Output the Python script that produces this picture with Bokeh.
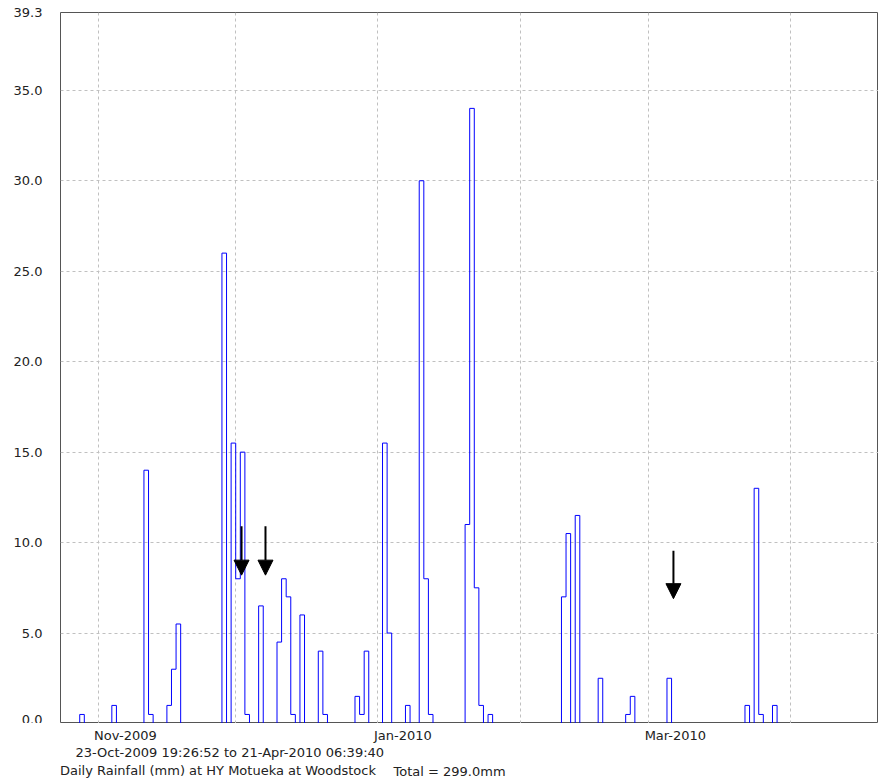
import pandas as pd
from bokeh.plotting import figure
from bokeh.layouts import column
from bokeh.models import (Range1d, FixedTicker, PrintfTickFormatter, Arrow,
                          NormalHead, Legend, LegendItem, Label)
from bokeh.embed import file_html
from bokeh.resources import INLINE

# ---- data ----
rain_dates = ["2009-10-28", "2009-11-04", "2009-11-11", "2009-11-12", "2009-11-16",
              "2009-11-17", "2009-11-18", "2009-11-28", "2009-11-30", "2009-12-01",
              "2009-12-02", "2009-12-03", "2009-12-06", "2009-12-10", "2009-12-11",
              "2009-12-12", "2009-12-13", "2009-12-15", "2009-12-19", "2009-12-20",
              "2009-12-27", "2009-12-28", "2009-12-29", "2010-01-02", "2010-01-03",
              "2010-01-07", "2010-01-10", "2010-01-11", "2010-01-12", "2010-01-20",
              "2010-01-21", "2010-01-22", "2010-01-23", "2010-01-25", "2010-02-10",
              "2010-02-11", "2010-02-13", "2010-02-18", "2010-02-24", "2010-02-25",
              "2010-03-05", "2010-03-22", "2010-03-24", "2010-03-25", "2010-03-28"]
rain_mm = [0.5, 1.0, 14.0, 0.5, 1.0,
           3.0, 5.5, 26.0, 15.5, 8.0,
           15.0, 0.5, 6.5, 4.5, 8.0,
           7.0, 0.5, 6.0, 4.0, 0.5,
           1.5, 0.5, 4.0, 15.5, 5.0,
           1.0, 30.0, 8.0, 0.5, 11.0,
           34.0, 7.5, 1.0, 0.5, 7.0,
           10.5, 11.5, 2.5, 0.5, 1.5,
           2.5, 1.0, 13.0, 0.5, 1.0]

series_start = "2009-10-23 19:26:52"
series_end = "2010-04-21 06:39:40"
view_end = "2010-04-20 02:30:00"

y_ticks = [0, 5, 10, 15, 20, 25, 30, 35, 39.3]
x_label_dates = ["2009-11-01", "2010-01-01", "2010-03-01"]
x_labels = ["Nov-2009", "Jan-2010", "Mar-2010"]
grid_months = ["2009-11-01", "2009-12-01", "2010-01-01", "2010-02-01",
               "2010-03-01", "2010-04-01"]

arrow_dates = ["2009-12-02 06:30", "2009-12-07 11:45", "2010-03-06 09:50"]
arrow_top = [10.9, 10.9, 9.55]
arrow_tip = [8.2, 8.2, 6.9]

series_name = "Daily Rainfall (mm) at HY Motueka at Woodstock"


def ms(s):
    return pd.Timestamp(s).value / 1e6


FONT = "DejaVu Sans"
FS = "13px"
TXT = "#222222"
LINE = "#0000ff"
LEFT, TOP = 60, 12
FRAME_W, FRAME_H = 818, 711

days = pd.date_range("2009-10-23", "2010-04-22", freq="D")
vals = pd.Series(0.0, index=days)
for d, v in zip(rain_dates, rain_mm):
    vals[pd.Timestamp(d)] = v
days_ms = [ms(d) for d in days]

x0 = ms(series_start)
x1 = ms(view_end)
xr = Range1d(x0, x1)

p = figure(frame_width=FRAME_W, frame_height=FRAME_H,
           x_range=xr, y_range=Range1d(0, 39.3),
           x_axis_type="datetime", x_axis_location=None,
           output_backend="svg", toolbar_location=None,
           min_border_left=LEFT, min_border_right=0, min_border_top=TOP,
           min_border_bottom=0)
p.background_fill_color = "white"
p.border_fill_color = "white"
p.outline_line_color = "#555555"

r = p.step(x=days_ms, y=list(vals.values), mode="after",
           line_color=LINE, line_width=1)

p.xgrid.ticker = FixedTicker(ticks=[ms(d) for d in grid_months])

# y axis
p.yaxis.ticker = FixedTicker(ticks=y_ticks)
inner_ticks = [t for t in y_ticks if 0 < t < max(y_ticks)]
p.ygrid.ticker = FixedTicker(ticks=inner_ticks)
p.yaxis.formatter = PrintfTickFormatter(format="%.1f")
p.yaxis.major_tick_out = 0
p.yaxis.major_tick_in = 0
p.yaxis.minor_tick_out = 0
p.yaxis.minor_tick_in = 0
p.yaxis.axis_line_color = None
p.yaxis.major_label_standoff = 18
p.yaxis.major_label_text_font = FONT
p.yaxis.major_label_text_font_size = FS
p.yaxis.major_label_text_color = TXT
for g in (p.xgrid, p.ygrid):
    g.grid_line_color = "#c0c0c0"
    g.grid_line_dash = "3 3"

# arrows
for d, a, b in zip(arrow_dates, arrow_top, arrow_tip):
    p.add_layout(Arrow(end=NormalHead(size=15, fill_color="black", line_color="black"),
                       x_start=ms(d), y_start=a, x_end=ms(d), y_end=b,
                       line_color="black", line_width=2))

# ---- footer strip under the chart: month labels, period text, legend ----
# shares the chart's time axis; y is pixels measured down from the chart's bottom edge
FOOT_H = 56
f = figure(frame_width=FRAME_W, frame_height=FOOT_H,
           x_range=xr, y_range=Range1d(FOOT_H, 0),
           x_axis_location=None, y_axis_location=None,
           min_border_left=LEFT, min_border_right=0, min_border_top=0, min_border_bottom=0,
           output_backend="svg", toolbar_location=None)
f.grid.visible = False
f.outline_line_color = None
f.background_fill_color = "white"
f.border_fill_color = "white"

common = dict(text_font=FONT, text_font_size=FS, text_color=TXT, text_baseline="middle",
              text_align="left")

# month labels start just left of their month line
for d, t in zip(x_label_dates, x_labels):
    f.add_layout(Label(x=ms(d), y=12, x_offset=-4, text=t, **common))

ts0 = pd.Timestamp(series_start).strftime("%d-%b-%Y %H:%M:%S")
ts1 = pd.Timestamp(series_end).strftime("%d-%b-%Y %H:%M:%S")
f.add_layout(Label(x=x0, y=29, x_offset=15, text=f"{ts0} to {ts1}", **common))

key = f.line(x=[float("nan")], y=[float("nan")], line_color=LINE, line_width=1)
legend = Legend(items=[LegendItem(label=series_name, renderers=[key])],
                location=(-35, 1), padding=0, margin=0, spacing=0,
                border_line_color=None, background_fill_alpha=0,
                glyph_width=22, glyph_height=14, label_height=14, label_standoff=13,
                label_text_font=FONT, label_text_font_size=FS, label_text_color=TXT)
f.add_layout(legend)
f.add_layout(Label(x=x0, y=48, x_offset=333, text=f"Total = {sum(rain_mm):.1f}mm", **common))

layout = column(p, f, spacing=0)
open("out.html", "w").write(file_html(layout, INLINE))
